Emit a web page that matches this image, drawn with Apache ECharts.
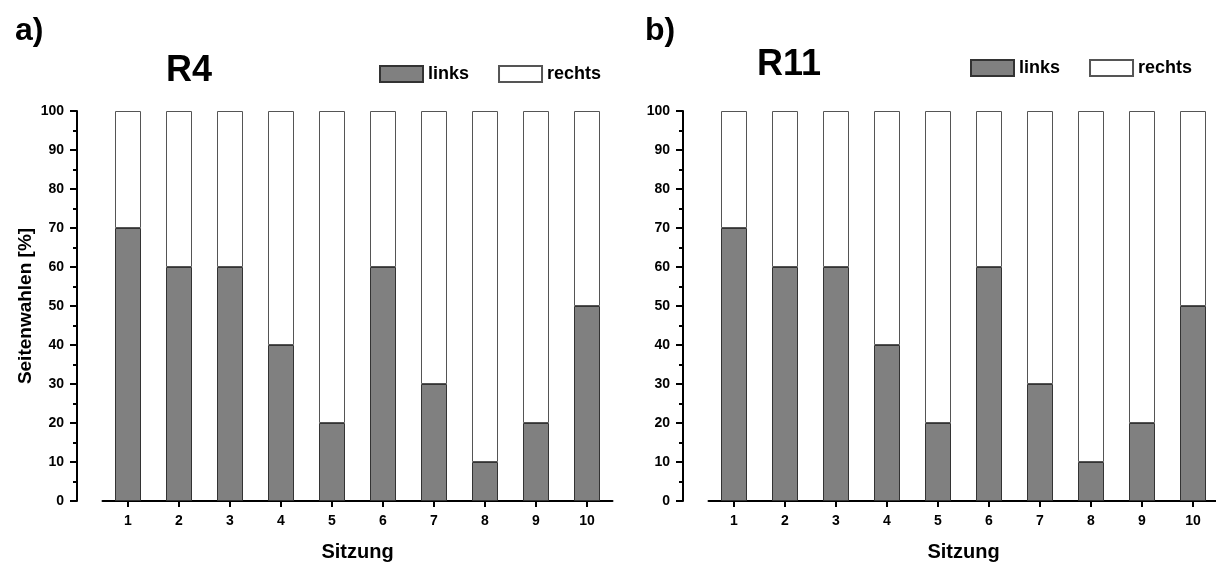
<!DOCTYPE html>
<html>
<head>
<meta charset="utf-8">
<script src="https://cdn.jsdelivr.net/npm/echarts@6/dist/echarts.min.js"></script>
<style>
html,body{margin:0;padding:0;background:#fff;}
#c{width:1216px;height:562px;}
</style>
</head>
<body>
<div id="c"></div>
<script>
var sessions = ['1', '2', '3', '4', '5', '6', '7', '8', '9', '10'];
var linksR4 = [70, 60, 60, 40, 20, 60, 30, 10, 20, 50];
var rechtsR4 = [30, 40, 40, 60, 80, 40, 70, 90, 80, 50];
var linksR11 = [70, 60, 60, 40, 20, 60, 30, 10, 20, 50];
var rechtsR11 = [30, 40, 40, 60, 80, 40, 70, 90, 80, 50];
var yTicks = [0, 10, 20, 30, 40, 50, 60, 70, 80, 90, 100];

var FONT = '"Liberation Sans", Arial, sans-serif';

function xAxisCfg(gi) {
  return {
    type: 'category', gridIndex: gi, data: sessions, boundaryGap: true,
    name: 'Sitzung', nameLocation: 'middle', nameGap: 41,
    nameTextStyle: { fontFamily: FONT, fontWeight: 'bold', fontSize: 20, color: '#000' },
    axisLine: { show: true, onZero: false, lineStyle: { color: '#000', width: 2 } },
    axisTick: { show: true, inside: false, alignWithLabel: true, length: 6, lineStyle: { color: '#000', width: 2 } },
    axisLabel: { margin: 13, fontFamily: FONT, fontWeight: 'bold', fontSize: 14, color: '#000' },
    splitLine: { show: false }
  };
}
function yAxisCfg(gi, withName) {
  return {
    type: 'value', gridIndex: gi, min: yTicks[0], max: yTicks[yTicks.length - 1], interval: 10,
    offset: 25.5,
    name: withName ? 'Seitenwahlen [%]' : '', nameLocation: 'middle', nameGap: 42,
    nameTextStyle: { fontFamily: FONT, fontWeight: 'bold', fontSize: 19, color: '#000' },
    axisLine: { show: true, onZero: false, lineStyle: { color: '#000', width: 2 } },
    axisTick: { show: true, inside: false, length: 7, lineStyle: { color: '#000', width: 2 } },
    minorTick: { show: true, splitNumber: 2, length: 4, lineStyle: { color: '#000', width: 2 } },
    axisLabel: { margin: 13, fontFamily: FONT, fontWeight: 'bold', fontSize: 14, color: '#000' },
    splitLine: { show: false }
  };
}
var grayStyle = { color: '#808080', borderColor: '#333333', borderWidth: 1 };
var whiteStyle = { color: '#ffffff', borderColor: '#555555', borderWidth: 1 };
function barSeries(name, vals, gi, style, stack) {
  return {
    type: 'bar', name: name, xAxisIndex: gi, yAxisIndex: gi, stack: stack,
    data: vals, barWidth: 26, itemStyle: style, silent: true
  };
}
var legendText = { fontFamily: FONT, fontWeight: 'bold', fontSize: 18, color: '#000' };

var chart = echarts.init(document.getElementById('c'), null, { renderer: 'canvas' });
chart.setOption({
  animation: false,
  backgroundColor: '#fff',
  title: [
    { text: 'a)', left: 10, top: 10, textStyle: { fontFamily: FONT, fontWeight: 'bold', fontSize: 32, color: '#000' } },
    { text: 'b)', left: 640, top: 10, textStyle: { fontFamily: FONT, fontWeight: 'bold', fontSize: 32, color: '#000' } },
    { text: 'R4', left: 161, top: 48, textStyle: { fontFamily: FONT, fontWeight: 'bold', fontSize: 36, color: '#000' } },
    { text: 'R11', left: 752, top: 42, textStyle: { fontFamily: FONT, fontWeight: 'bold', fontSize: 36, color: '#000' } }
  ],
  legend: [
    { left: 379, top: 65, padding: 0, itemWidth: 43, itemHeight: 16, itemGap: 29, icon: 'rect', selectedMode: false,
      data: ['links', 'rechts'], textStyle: legendText },
    { left: 970, top: 59, padding: 0, itemWidth: 43, itemHeight: 16, itemGap: 29, icon: 'rect', selectedMode: false,
      data: ['links', 'rechts'], textStyle: legendText }
  ],
  grid: [
    { left: 102.5, top: 111, width: 510, height: 390, outerBoundsMode: 'none', containLabel: false },
    { left: 708.5, top: 111, width: 510, height: 390, outerBoundsMode: 'none', containLabel: false }
  ],
  xAxis: [xAxisCfg(0), xAxisCfg(1)],
  yAxis: [yAxisCfg(0, true), yAxisCfg(1, false)],
  series: [
    barSeries('links', linksR4, 0, grayStyle, 'r4'),
    barSeries('rechts', rechtsR4, 0, whiteStyle, 'r4'),
    barSeries('links', linksR11, 1, grayStyle, 'r11'),
    barSeries('rechts', rechtsR11, 1, whiteStyle, 'r11')
  ]
});
</script>
</body>
</html>
